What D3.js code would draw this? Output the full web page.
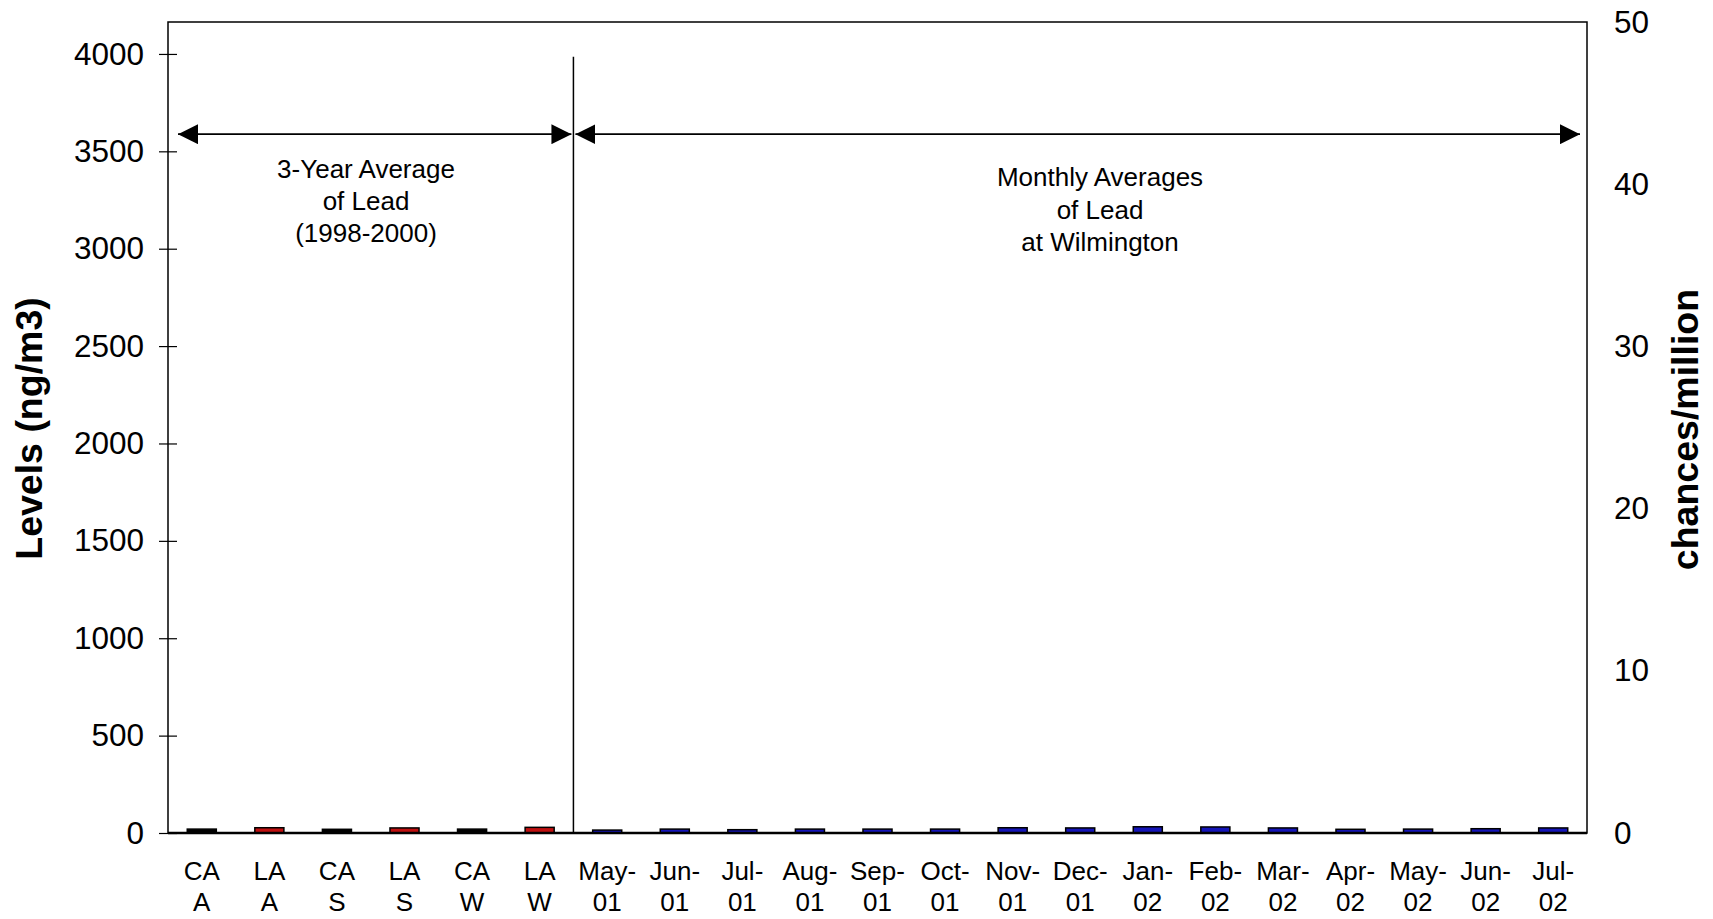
<!DOCTYPE html>
<html>
<head>
<meta charset="utf-8">
<script src="https://cdn.jsdelivr.net/npm/d3@7"></script>
<style>
  body { margin: 0; background: #fff; }
  text { font-family: "Liberation Sans", Arial, sans-serif; fill: #000; }
</style>
</head>
<body>
<div id="chart"></div>
<script>
// categories (two label lines each)
const categories = ["CA A", "LA A", "CA S", "LA S", "CA W", "LA W",
  "May-01", "Jun-01", "Jul-01", "Aug-01", "Sep-01", "Oct-01", "Nov-01", "Dec-01",
  "Jan-02", "Feb-02", "Mar-02", "Apr-02", "May-02", "Jun-02", "Jul-02"];
const labelTop = ["CA", "LA", "CA", "LA", "CA", "LA",
  "May-", "Jun-", "Jul-", "Aug-", "Sep-", "Oct-", "Nov-", "Dec-",
  "Jan-", "Feb-", "Mar-", "Apr-", "May-", "Jun-", "Jul-"];
const labelBottom = ["A", "A", "S", "S", "W", "W",
  "01", "01", "01", "01", "01", "01", "01", "01",
  "02", "02", "02", "02", "02", "02", "02"];
// lead levels (ng/m3)
const leadLevels = [20, 27, 19, 26, 20, 29,
  15, 20, 17, 20, 20, 20, 27, 26, 32, 31, 26, 19, 20, 22, 26];
const groups = ["CA", "LA", "CA", "LA", "CA", "LA",
  "M", "M", "M", "M", "M", "M", "M", "M", "M", "M", "M", "M", "M", "M", "M"];
const leftTicks = [0, 500, 1000, 1500, 2000, 2500, 3000, 3500, 4000];
const rightTicks = [0, 10, 20, 30, 40, 50];
const annoLeft = ["3-Year Average", "of Lead", "(1998-2000)"];
const annoRight = ["Monthly Averages", "of Lead", "at Wilmington"];

const width = 1713, height = 919;
const mLeft = 168, mRight = 1587, mTop = 22, mBottom = 833;

const svg = d3.select("#chart").append("svg")
  .attr("width", width)
  .attr("height", height);

const x = d3.scaleBand().domain(categories).range([mLeft, mRight])
  .paddingInner(0.57).paddingOuter(0.285);
const y = d3.scaleLinear().domain([0, 4164]).range([mBottom, mTop]);
const y2 = d3.scaleLinear().domain([0, 50]).range([mBottom, mTop]);

const fillColor = d3.scaleOrdinal().domain(["CA", "LA", "M"]).range(["#000000", "#c01010", "#1515b8"]);

// bars
svg.selectAll("rect.bar")
  .data(leadLevels)
  .enter().append("rect")
  .attr("class", "bar")
  .attr("x", (d, i) => x(categories[i]))
  .attr("y", d => y(d))
  .attr("width", x.bandwidth())
  .attr("height", d => mBottom - y(d))
  .attr("fill", (d, i) => fillColor(groups[i]))
  .attr("stroke", "#000")
  .attr("stroke-width", 1.5);

// plot border
svg.append("rect")
  .attr("x", mLeft).attr("y", mTop)
  .attr("width", mRight - mLeft).attr("height", mBottom - mTop)
  .attr("fill", "none")
  .attr("stroke", "#000")
  .attr("stroke-width", 1.5);

svg.append("line")
  .attr("x1", mLeft).attr("x2", mRight)
  .attr("y1", mBottom).attr("y2", mBottom)
  .attr("stroke", "#000").attr("stroke-width", 2.5);

// left axis
const gLeft = svg.append("g")
  .attr("transform", `translate(${mLeft},0)`)
  .call(d3.axisLeft(y).tickValues(leftTicks).tickSize(9).tickPadding(15).tickFormat(d3.format("d")));
gLeft.select(".domain").remove();
gLeft.selectAll(".tick line").attr("x1", 9).attr("x2", -9).attr("stroke", "#000").attr("stroke-width", 1.2);
gLeft.selectAll(".tick text").style("font-size", "31.5px").attr("font-family", null);

// right axis
const gRight = svg.append("g")
  .attr("transform", `translate(${mRight},0)`)
  .call(d3.axisRight(y2).tickValues(rightTicks).tickSize(0).tickPadding(27));
gRight.select(".domain").remove();
gRight.selectAll(".tick text").style("font-size", "31.5px").attr("font-family", null);

// category labels
const catLabels = svg.append("g").selectAll("text")
  .data(categories)
  .enter().append("text")
  .attr("text-anchor", "middle")
  .style("font-size", "26px")
  .attr("x", d => x(d) + x.bandwidth() / 2);
catLabels.append("tspan").attr("y", 880).text((d, i) => labelTop[i]);
catLabels.append("tspan")
  .attr("x", d => x(d) + x.bandwidth() / 2)
  .attr("y", 911).text((d, i) => labelBottom[i]);

// axis titles
svg.append("text")
  .attr("transform", `translate(42,${(mTop + mBottom) / 2 + 1}) rotate(-90)`)
  .attr("text-anchor", "middle")
  .style("font-size", "37.5px")
  .style("font-weight", "bold")
  .text("Levels (ng/m3)");

svg.append("text")
  .attr("transform", `translate(1698,${(mTop + mBottom) / 2 + 2}) rotate(-90)`)
  .attr("text-anchor", "middle")
  .style("font-size", "37.5px")
  .style("font-weight", "bold")
  .text("chances/million");

// divider and arrows
const splitX = mLeft + (mRight - mLeft) * 6 / categories.length;
svg.append("line")
  .attr("x1", splitX).attr("x2", splitX)
  .attr("y1", y(3985)).attr("y2", mBottom)
  .attr("stroke", "#000").attr("stroke-width", 1.5);

const defs = svg.append("defs");
defs.append("marker")
  .attr("id", "head")
  .attr("viewBox", "0 0 20 20")
  .attr("refX", 20).attr("refY", 10)
  .attr("markerWidth", 20).attr("markerHeight", 20)
  .attr("markerUnits", "userSpaceOnUse")
  .attr("orient", "auto-start-reverse")
  .append("path")
  .attr("d", "M0,0 L20,10 L0,20 Z")
  .attr("fill", "#000");

const arrowY = y(3588);
[[mLeft + 10, splitX - 2], [splitX + 2, mRight - 7]].forEach(([a, b]) => {
  svg.append("line")
    .attr("x1", a).attr("x2", b)
    .attr("y1", arrowY).attr("y2", arrowY)
    .attr("stroke", "#000").attr("stroke-width", 1.8)
    .attr("marker-start", "url(#head)")
    .attr("marker-end", "url(#head)");
});

// annotations
svg.append("g").selectAll("text")
  .data(annoLeft)
  .enter().append("text")
  .attr("x", 366)
  .attr("y", (d, i) => 178 + i * 32)
  .attr("text-anchor", "middle")
  .style("font-size", "26px")
  .text(d => d);

svg.append("g").selectAll("text")
  .data(annoRight)
  .enter().append("text")
  .attr("x", 1100)
  .attr("y", (d, i) => 186 + i * 32.5)
  .attr("text-anchor", "middle")
  .style("font-size", "26px")
  .text(d => d);
</script>
</body>
</html>
